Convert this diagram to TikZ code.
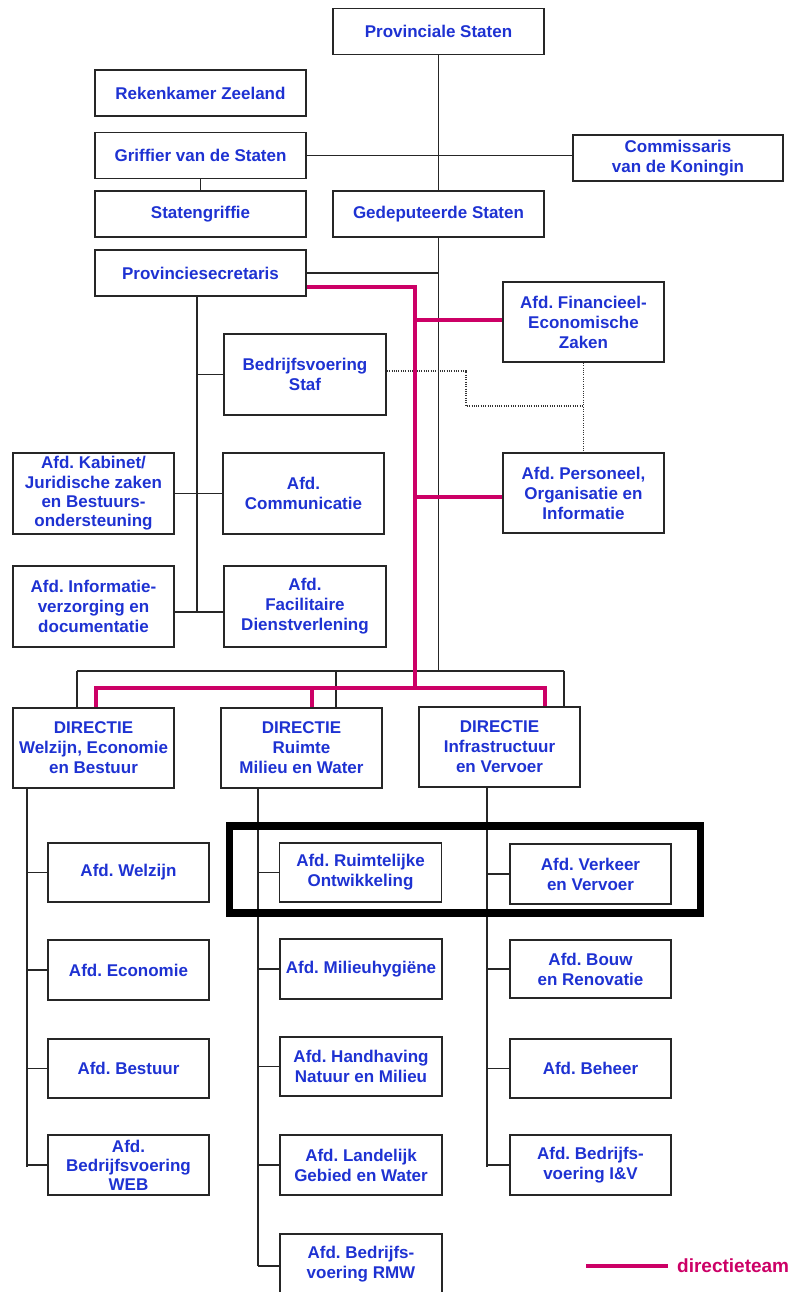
\documentclass[tikz,border=0pt]{standalone}
\usepackage{fontspec}
\setmainfont{Liberation Sans}
\frenchspacing
\definecolor{txtblue}{RGB}{30,50,210}
\definecolor{dtmag}{RGB}{204,0,102}
\begin{document}
\begin{tikzpicture}[x=1pt,y=-1pt,
  box/.style={draw=black!85, line width=1.8pt, inner sep=0pt, align=center,
    text=txtblue, font=\fontsize{17}{20}\selectfont\bfseries},
  wide/.style={minimum width=211pt, minimum height=46pt},
  mid/.style={minimum width=161pt, minimum height=81pt},
  small/.style={minimum width=161pt, minimum height=60pt},
  conn/.style={draw=black!85, line width=1.6pt},
  dteam/.style={draw=dtmag, line width=4.5pt},
  dotline/.style={draw=black!80, line width=1.1pt, dash pattern=on 1pt off 1.3pt}]
\useasboundingbox (0,0) rectangle (790,1292);
\clip (0,0) rectangle (790,1292);

% top boxes
\node[box,wide] (ps) at (438.5,31.5) {Provinciale Staten};
\node[box,wide] (rk) at (200.5,93) {Rekenkamer Zeeland};
\node[box,wide] (gr) at (200.5,155.5) {Griffier van de Staten};
\node[box,minimum width=210pt,minimum height=46pt] (cvk) at (678,158) {Commissaris\\van de Koningin};
\node[box,wide] (sg) at (200.5,214) {Statengriffie};
\node[box,wide] (gs) at (438.5,214) {Gedeputeerde Staten};
\node[box,wide] (psec) at (200.5,273) {Provinciesecretaris};

% staff
\node[box,mid,minimum width=162pt] (bs) at (305,374.5) {Bedrijfsvoering\\Staf};
\node[box,mid,font=\fontsize{17}{19.3}\selectfont\bfseries] (kab) at (93.5,493.5) {Afd. Kabinet/\\Juridische zaken\\en Bestuurs-\\ondersteuning};
\node[box,mid] (com) at (303.5,493.5) {Afd.\\Communicatie};
\node[box,mid] (inf) at (93.5,606.5) {Afd. Informatie-\\verzorging en\\documentatie};
\node[box,mid,minimum width=162pt] (fac) at (305,606.5) {Afd.\\Facilitaire\\Dienstverlening};
\node[box,mid,minimum height=80pt] (fez) at (583.5,322) {Afd. Financieel-\\Economische\\Zaken};
\node[box,mid,minimum height=80pt] (poi) at (583.5,493) {Afd. Personeel,\\Organisatie en\\Informatie};

% directies
\node[box,mid,minimum height=80pt] (dw) at (93.5,748) {DIRECTIE\\Welzijn, Economie\\en Bestuur};
\node[box,mid,minimum height=80pt] (dr) at (301.5,748) {DIRECTIE\\Ruimte\\Milieu en Water};
\node[box,mid,minimum height=80pt] (di) at (499.5,747) {DIRECTIE\\Infrastructuur\\en Vervoer};

% column 1
\node[box,small,minimum height=59pt] (wz) at (128.5,872.5) {Afd. Welzijn};
\node[box,small] (eco) at (128.5,970) {Afd. Economie};
\node[box,small,minimum height=59pt] (bes) at (128.5,1068.5) {Afd. Bestuur};
\node[box,small,font=\fontsize{17}{19}\selectfont\bfseries] (bweb) at (128.5,1165) {Afd.\\Bedrijfsvoering\\WEB};

% column 2
\node[box,small,minimum width=162pt,minimum height=59pt] (ro) at (360.5,872.5) {Afd. Ruimtelijke\\Ontwikkeling};
\node[box,small,minimum width=162pt] (mh) at (361,969) {Afd. Milieuhygiëne};
\node[box,small,minimum width=162pt,minimum height=59pt] (hh) at (361,1066.5) {Afd. Handhaving\\Natuur en Milieu};
\node[box,small,minimum width=162pt] (lg) at (361,1165) {Afd. Landelijk\\Gebied en Water};
\node[box,small,minimum width=162pt] (rmw) at (361,1264) {Afd. Bedrijfs-\\voering RMW};

% column 3
\node[box,small] (vv) at (590.5,874) {Afd. Verkeer\\en Vervoer};
\node[box,small,minimum height=58pt] (bouw) at (590.5,969) {Afd. Bouw\\en Renovatie};
\node[box,small,minimum height=59pt] (beh) at (590.5,1068.5) {Afd. Beheer};
\node[box,small] (biv) at (590.5,1165) {Afd. Bedrijfs-\\voering I\&V};

% helper coordinates
\coordinate (hub) at (438.5,671);
\coordinate (busL) at (77,671);
\coordinate (busM) at (336,671);
\coordinate (busR) at (564,671);
\coordinate (pv) at (197,612);
\coordinate (c1) at (27,1167);
\coordinate (c2) at (258,1266);
\coordinate (c3) at (487,1167);
\coordinate (mtop) at (415,287);
\coordinate (mbot) at (415,688);
\coordinate (mL) at (96,688);
\coordinate (mM) at (312,688);
\coordinate (mR) at (545,688);
\coordinate (dA) at (466,371);
\coordinate (dB) at (466,406);
\coordinate (dC) at (583.5,406);

% black connectors
\draw[conn] (ps.south) -- (gs.north);
\draw[conn] (gs.south) -- (hub);
\draw[conn] (gr.east) -- (gr.east -| cvk.west);
\draw[conn] (gr.south) -- (sg.north);
\draw[conn] (psec.east) -- (psec.east -| gs.south);
\draw[conn] (psec.south -| pv) -- (pv);
\draw[conn] (bs.west -| pv) -- (bs.west);
\draw[conn] (kab.east) -- (com.west);
\draw[conn] (inf.east |- pv) -- (fac.west |- pv);
\draw[conn] (busL) -- (busR);
\draw[conn] (busL) -- (busL |- dw.north);
\draw[conn] (busM) -- (busM |- dr.north);
\draw[conn] (busR) -- (busR |- di.north);

% columns
\draw[conn] (dw.south -| c1) -- (c1);
\foreach \n in {wz,eco,bes,bweb} \draw[conn] (\n.west -| c1) -- (\n.west);
\draw[conn] (dr.south -| c2) -- (c2);
\foreach \n in {ro,mh,hh,lg} \draw[conn] (\n.west -| c2) -- (\n.west);
\draw[conn] (c2) -- (c2 -| rmw.west);
\draw[conn] (di.south -| c3) -- (c3);
\foreach \n in {vv,bouw,beh,biv} \draw[conn] (\n.west -| c3) -- (\n.west);

% dotted relations
\draw[dotline] (bs.east |- dA) -- (dA) -- (dB) -- (dC);
\draw[dotline] (fez.south) -- (poi.north);

% directieteam (magenta)
\draw[dteam] (psec.east |- mtop) -- (mtop) -- (mbot);
\draw[dteam] (mL |- dw.north) -- (mL) -- (mR) -- (mR |- di.north);
\draw[dteam] (mM) -- (mM |- dr.north);
\draw[dteam] (mtop |- 0,320) -- (fez.west |- 0,320);
\draw[dteam] (mtop |- 0,497) -- (poi.west |- 0,497);

% highlight frame
\draw[line width=7.5pt] (229.5,826) rectangle (700.5,913);

% legend
\coordinate (lgA) at (586,1266);
\node[anchor=west, inner sep=0pt, text=dtmag, font=\fontsize{19}{22}\selectfont\bfseries] (lgT) at (677,1266) {directieteam};
\draw[dteam] (lgA) -- (lgA -| 668,0);
\end{tikzpicture}
\end{document}
